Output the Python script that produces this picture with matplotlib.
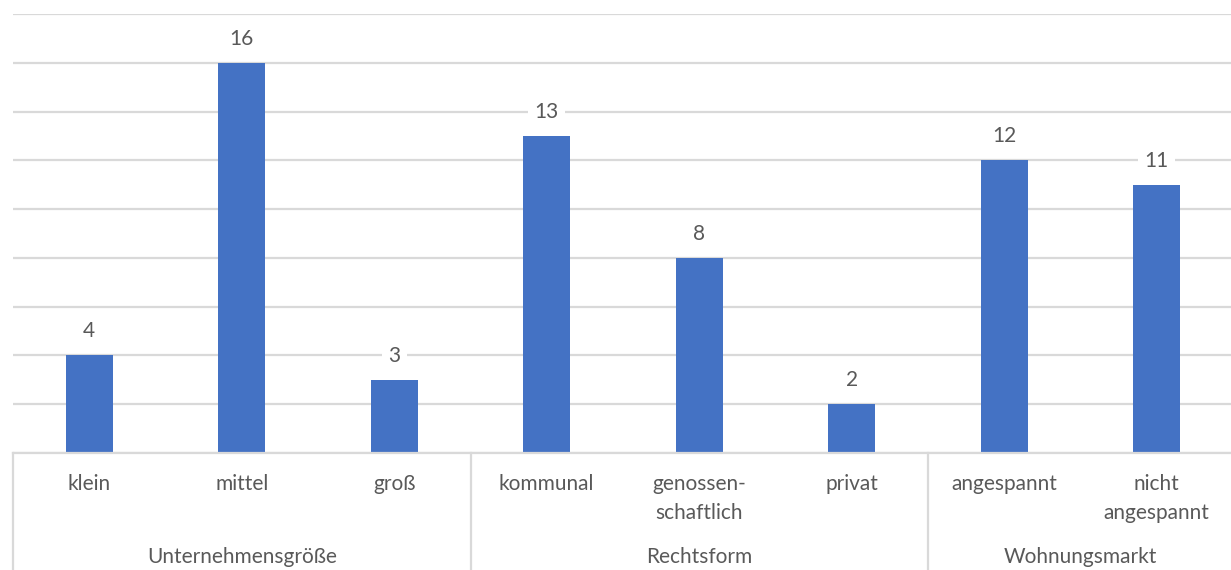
import matplotlib.pyplot as plt
from matplotlib.transforms import blended_transform_factory

# data
categories = ["klein", "mittel", "groß", "kommunal", "genossen-\nschaftlich",
              "privat", "angespannt", "nicht\nangespannt"]
values = [4, 16, 3, 13, 8, 2, 12, 11]
groups = ["Unternehmensgröße", "Rechtsform", "Wohnungsmarkt"]
group_sizes = [3, 3, 2]

plt.rcParams['font.family'] = ['Lato', 'DejaVu Sans']
txt_color = "#595959"
grid_color = "#d9d9d9"
fs = 15

W, H = 1231, 570
fig = plt.figure(figsize=(W / 100, H / 100), dpi=100)
# axis spans x 13..1233 px, y 14..453 px (from top)
ax = fig.add_axes([13 / W, (H - 453) / H, 1220 / W, 439 / H])

x = list(range(len(values)))
ax.bar(x, values, width=0.31, color="#4472C4", zorder=3)
ax.set_xlim(-0.5, len(values) - 0.5)
ax.set_ylim(0, 18)
ax.set_yticks(range(0, 19, 2))
ax.grid(axis="y", color=grid_color, linewidth=1.6, zorder=0)
ax.set_xticks([])
ax.tick_params(left=False, labelleft=False)
for s in ax.spines.values():
    s.set_visible(False)

for xi, v in zip(x, values):
    ax.annotate(str(v), (xi, v), xytext=(0, 24), textcoords="offset pixels",
                ha="center", va="center", fontsize=fs, color=txt_color,
                bbox=dict(boxstyle="square,pad=0.3", fc="white", ec="none"),
                zorder=4)

tr = blended_transform_factory(ax.transData, fig.transFigure)
def fy(py):
    return (H - py) / H

# baseline and category axis
ax.plot([-0.5, len(values) - 0.5], [fy(453)] * 2, transform=tr,
        color=grid_color, linewidth=1.6, clip_on=False, zorder=5)
for xi, c in zip(x, categories):
    ax.text(xi, fy(474), c, transform=tr, ha="center", va="top",
            fontsize=fs, color=txt_color, linespacing=1.55)

start = 0
bounds = [-0.5]
for g, n in zip(groups, group_sizes):
    ax.text(start + (n - 1) / 2, fy(557), g, transform=tr, ha="center",
            va="center", fontsize=fs, color=txt_color)
    start += n
    bounds.append(start - 0.5)
for b in bounds:
    ax.plot([b, b], [fy(453), 0], transform=tr, color=grid_color,
            linewidth=1.6, clip_on=False)

fig.savefig("out.png", dpi=100)
